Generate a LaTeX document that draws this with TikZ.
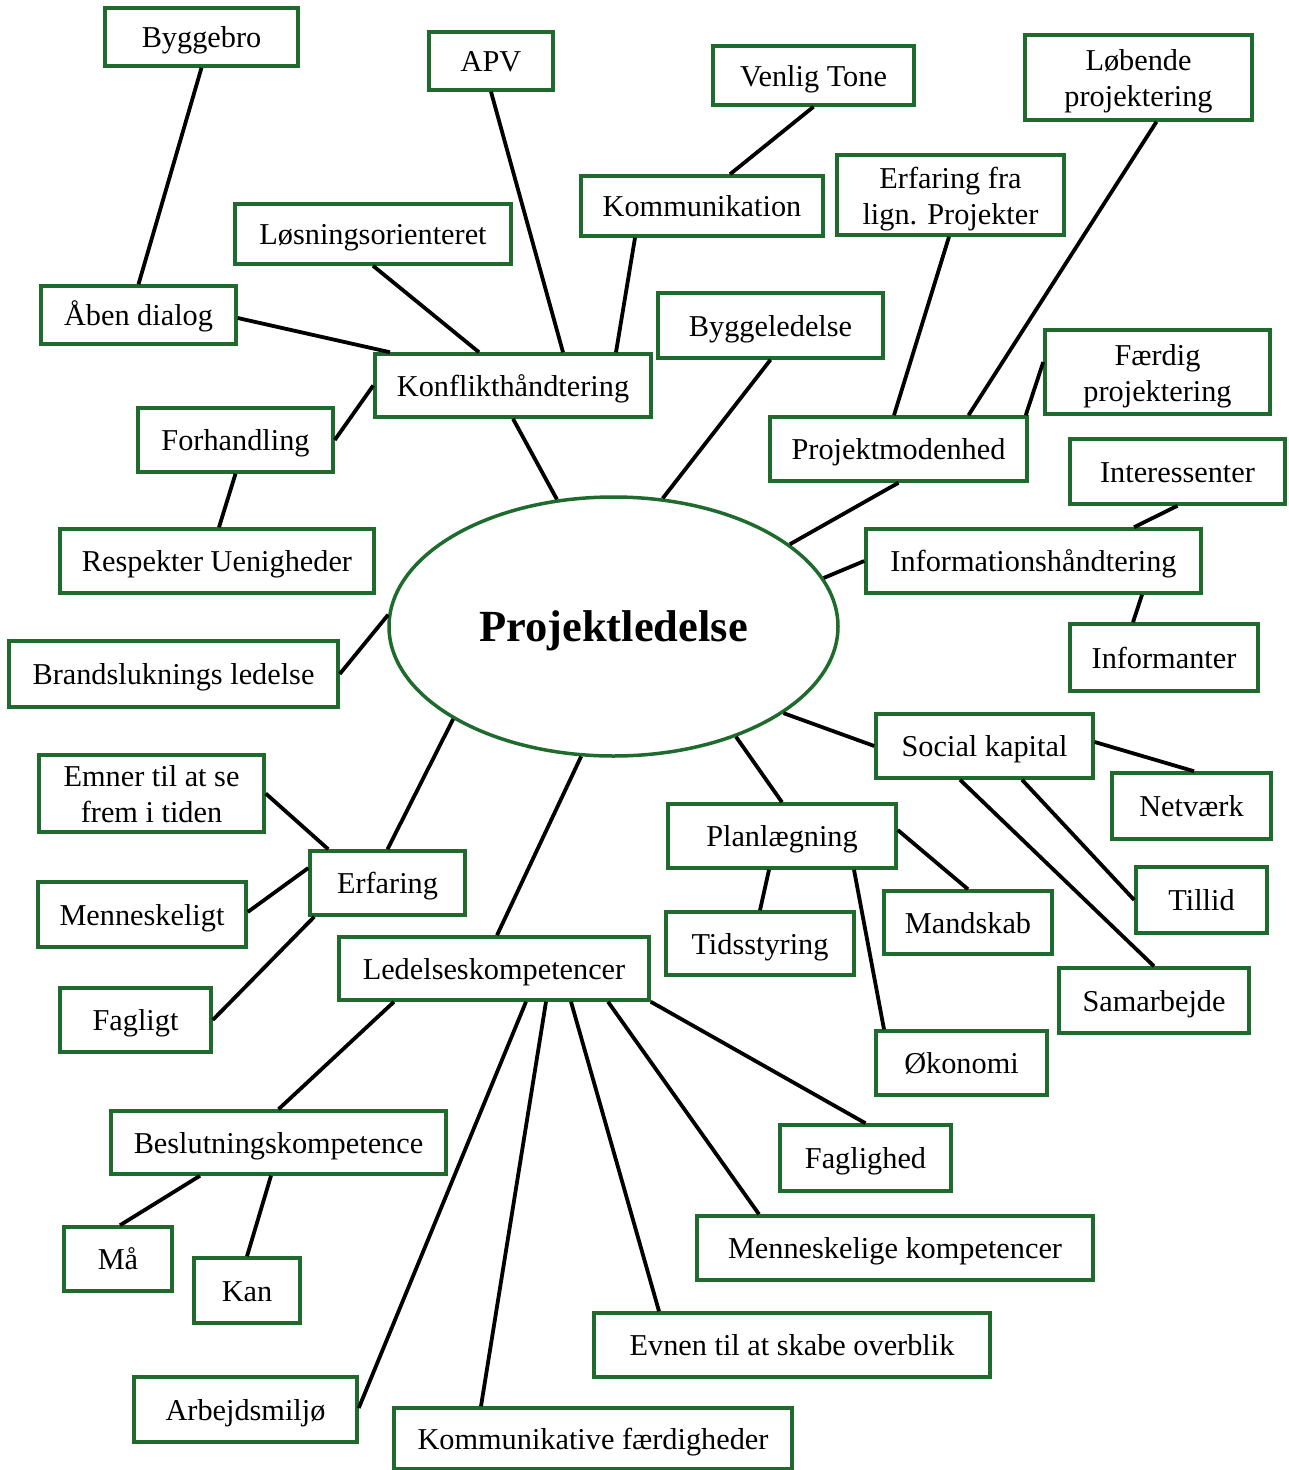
\documentclass[tikz,border=0pt]{standalone}
\usepackage{fontspec}
\setmainfont{Liberation Serif}
\usetikzlibrary{shapes.geometric,calc}
\definecolor{boxgreen}{RGB}{30,107,45}
% two centred lines inside one box
\newcommand{\twolines}[2]{{\setlength{\tabcolsep}{0pt}\begin{tabular}{c}#1\\#2\end{tabular}}}

\begin{document}
\begin{tikzpicture}[x=1pt,y=-1pt,
  box/.style={draw=boxgreen, line width=3.5pt, fill=white, rectangle,
    inner sep=0pt, text height=25pt, text depth=4pt,
    font=\fontsize{30.3}{36}\selectfont},
  sz/.style 2 args={minimum width=#1pt, minimum height=#2pt},
  link/.style={line width=3.8pt, black}]
\fill[white] (0,0) rectangle (1288,1470);
\useasboundingbox (0,0) rectangle (1288,1470);

% central topic
\node[ellipse, draw=boxgreen, line width=3.5pt, fill=white, inner sep=0pt,
  minimum width=449pt, minimum height=259pt, text height=36pt, text depth=6pt,
  font=\bfseries\fontsize{44.5}{50}\selectfont] (pl) at (613.5,626.5) {Projektledelse};

% upper left branch
\node[box, sz={193}{58}] (byggebro) at (201.5,37) {Byggebro};
\node[box, sz={124}{58}] (apv) at (491,61) {APV};
\node[box, sz={276}{60}] (losning) at (373,234) {Løsningsorienteret};
\node[box, sz={195}{58}] (aaben) at (138.5,315) {Åben dialog};
\node[box, sz={276}{63}] (konflikt) at (513,385.5) {Konflikthåndtering};
\node[box, sz={195}{64}] (forh) at (235.5,440) {Forhandling};
\node[box, sz={242}{60}] (komm) at (702,206) {Kommunikation};
\node[box, sz={201}{59}] (venlig) at (813.5,75.5) {Venlig Tone};
\node[box, sz={314}{64}] (resp) at (217,561) {Respekter Uenigheder};
\node[box, sz={329}{66}] (brand) at (173.5,674) {Brandsluknings ledelse};

% upper right branch
\node[box, sz={227}{85}] (lobende) at (1138.5,77.5) {\twolines{Løbende}{projektering}};
\node[box, sz={227}{80}] (erffra) at (950.5,195) {\twolines{Erfaring fra}{lign. Projekter}};
\node[box, sz={225}{65}] (byggeled) at (770.5,325.5) {Byggeledelse};
\node[box, sz={225}{84}] (faerdig) at (1157.5,372) {\twolines{Færdig}{projektering}};
\node[box, sz={257}{64}] (projmod) at (898.5,449) {Projektmodenhed};
\node[box, sz={215}{65}] (interes) at (1177.5,471.5) {Interessenter};
\node[box, sz={335}{64}] (info) at (1033.5,561) {Informationshåndtering};
\node[box, sz={188}{67}] (informanter) at (1164,657.5) {Informanter};

% lower right branch
\node[box, sz={217}{64}] (social) at (984.5,746) {Social kapital};
\node[box, sz={159}{66}] (netvaerk) at (1191.5,806) {Netværk};
\node[box, sz={131}{66}] (tillid) at (1201.5,900) {Tillid};
\node[box, sz={190}{65}] (samarb) at (1154,1000.5) {Samarbejde};
\node[box, sz={228}{64}] (plan) at (782,836) {Planlægning};
\node[box, sz={168}{63}] (mandskab) at (968,922.5) {Mandskab};
\node[box, sz={188}{63}] (tids) at (760,943.5) {Tidsstyring};
\node[box, sz={171}{64}] (okonomi) at (961.5,1063) {Økonomi};

% lower left branch
\node[box, sz={225}{77}] (emner) at (151.5,793.5) {\twolines{Emner til at se}{frem i tiden}};
\node[box, sz={155}{64}] (erfaring) at (387.5,883) {Erfaring};
\node[box, sz={208}{65}] (menneskeligt) at (142,914.5) {Menneskeligt};
\node[box, sz={151}{64}] (fagligt) at (135.5,1020) {Fagligt};
\node[box, sz={310}{63}] (ledelse) at (494,968.5) {Ledelseskompetencer};
\node[box, sz={335}{63}] (beslut) at (278.5,1142.5) {Beslutningskompetence};
\node[box, sz={108}{64}] (maa) at (118,1259) {Må};
\node[box, sz={106}{65}] (kan) at (247,1290.5) {Kan};
\node[box, sz={223}{65}] (arbejd) at (245.5,1409.5) {Arbejdsmiljø};
\node[box, sz={398}{61}] (kommf) at (593,1438.5) {Kommunikative færdigheder};
\node[box, sz={396}{64}] (evnen) at (792,1345) {Evnen til at skabe overblik};
\node[box, sz={396}{64}] (mennk) at (895,1248) {Menneskelige kompetencer};
\node[box, sz={171}{66}] (fagligh) at (865.5,1158) {Faglighed};

% connectors: upper left
\draw[link] (byggebro.south) -- (aaben.north);
\draw[link] ($(aaben.east)+(0,3)$) -- ($(konflikt.north)+(-123,0)$);
\draw[link] (losning.south) -- ($(konflikt.north)+(-34,0)$);
\draw[link] (apv.south) -- ($(konflikt.north)+(50,0)$);
\draw[link] ($(komm.south)+(-67,0)$) -- ($(konflikt.north)+(103,0)$);
\draw[link] (venlig.south) -- ($(komm.north)+(28,0)$);
\draw[link] (forh.east) -- (konflikt.west);
\draw[link] (forh.south) -- ($(resp.north)+(2,0)$);
\draw[link] (konflikt.south) -- (pl.114.9);
\draw[link] (pl.177) -- (brand.east);

% connectors: upper right
\draw[link] (byggeled.south) -- (pl.69.4);
\draw[link] ($(erffra.south)+(-1.5,0)$) -- ($(projmod.north)+(-4.5,0)$);
\draw[link] ($(lobende.south)+(18,0)$) -- ($(projmod.north)+(70,0)$);
\draw[link] ($(faerdig.west)+(0,-10)$) -- ($(projmod.north east)+(-3,0)$);
\draw[link] (projmod.south) -- (pl.25.4);
\draw[link] (info.west) -- (pl.13.9);
\draw[link] (interes.south) -- ($(info.north)+(100.5,0)$);
\draw[link] ($(info.south)+(108.5,0)$) -- ($(informanter.north)+(-31,0)$);

% connectors: lower right
\draw[link] (pl.-27.7) -- (social.west);
\draw[link] ($(social.east)+(0,-4)$) -- ($(netvaerk.north)+(2.5,0)$);
\draw[link] ($(social.south)+(37.5,0)$) -- (tillid.west);
\draw[link] ($(social.south)+(-24.5,0)$) -- (samarb.north);
\draw[link] (pl.-42.4) -- (plan.north);
\draw[link] ($(plan.east)+(0,-6)$) -- (mandskab.north);
\draw[link] ($(plan.south)+(-13,0)$) -- (tids.north);
\draw[link] ($(plan.south)+(72,0)$) -- ($(okonomi.north)+(-77.5,0)$);

% connectors: lower left
\draw[link] (pl.210) -- (erfaring.north);
\draw[link] ($(erfaring.north west)+(20,0)$) -- (emner.east);
\draw[link] ($(erfaring.west)+(0,-15)$) -- ($(menneskeligt.east)+(0,-2.5)$);
\draw[link] ($(erfaring.south west)+(6,0)$) -- (fagligt.east);
\draw[link] (pl.256.2) -- ($(ledelse.north)+(3,0)$);
\draw[link] ($(ledelse.south)+(-100,0)$) -- (beslut.north);
\draw[link] ($(beslut.south)+(-78.5,0)$) -- ($(maa.north)+(2,0)$);
\draw[link] ($(beslut.south)+(-7.5,0)$) -- (kan.north);
\draw[link] ($(ledelse.south)+(32,0)$) -- ($(arbejd.east)+(0,-1.5)$);
\draw[link] ($(ledelse.south)+(52,0)$) -- ($(kommf.north)+(-112,0)$);
\draw[link] ($(ledelse.south)+(77,0)$) -- ($(evnen.north)+(-133,0)$);
\draw[link] ($(ledelse.south)+(114,0)$) -- ($(mennk.north)+(-136,0)$);
\draw[link] (ledelse.south east) -- (fagligh.north);
\end{tikzpicture}
\end{document}
